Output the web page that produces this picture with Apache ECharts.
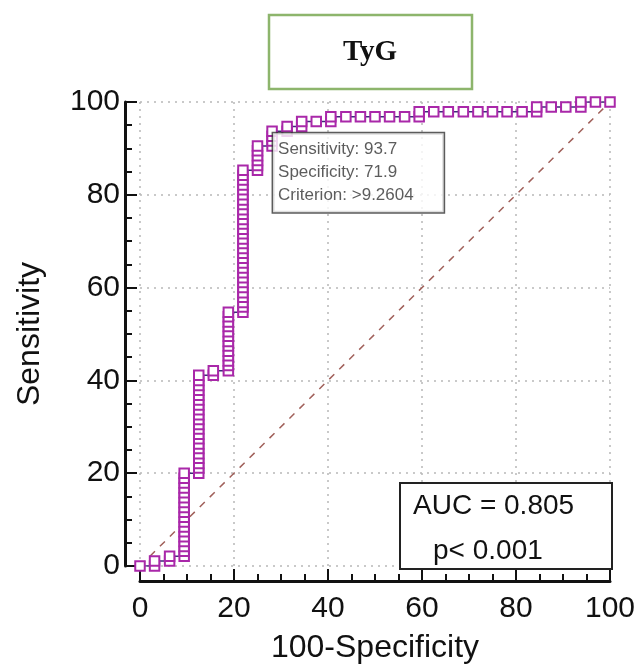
<!DOCTYPE html>
<html><head><meta charset="utf-8">
<script src="https://cdn.jsdelivr.net/npm/echarts@6/dist/echarts.min.js"></script>
<style>html,body{margin:0;padding:0;background:#fff}#c{width:639px;height:669px}</style>
</head><body><div id="c"></div>
<script>
// ---- data ----
const titleText = 'TyG';
const xName = '100-Specificity';
const yName = 'Sensitivity';
const tickValues = [0, 20, 40, 60, 80, 100];
// ROC points: 100-Specificity (x) and Sensitivity (y)
const fpr = [0,
  3.1,3.1,
  6.3,6.3,
  9.4,9.4,9.4,9.4,9.4,9.4,9.4,9.4,9.4,9.4,9.4,9.4,9.4,9.4,9.4,9.4,9.4,9.4,
  12.5,12.5,12.5,12.5,12.5,12.5,12.5,12.5,12.5,12.5,12.5,12.5,12.5,12.5,12.5,12.5,12.5,12.5,12.5,12.5,12.5,
  15.6,15.6,
  18.8,18.8,18.8,18.8,18.8,18.8,18.8,18.8,18.8,18.8,18.8,18.8,18.8,
  21.9,21.9,21.9,21.9,21.9,21.9,21.9,21.9,21.9,21.9,21.9,21.9,21.9,21.9,21.9,21.9,21.9,21.9,21.9,21.9,21.9,21.9,21.9,21.9,21.9,21.9,21.9,21.9,21.9,21.9,
  25,25,25,25,25,25,
  28.1,28.1,28.1,28.1,
  31.3,31.3,
  34.4,34.4,
  37.5,
  40.6,40.6,
  43.8,46.9,50,53.1,56.3,
  59.4,59.4,
  62.5,65.6,68.8,71.9,75,78.1,81.3,
  84.4,84.4,
  87.5,90.6,
  93.8,93.8,
  96.9,100];
const sens = [0,
  0,1.1,
  1.1,2.1,
  2.1,3.2,4.2,5.3,6.3,7.4,8.4,9.5,10.5,11.6,12.6,13.7,14.7,15.8,16.8,17.9,18.9,20.0,
  20.0,21.1,22.1,23.2,24.2,25.3,26.3,27.4,28.4,29.5,30.5,31.6,32.6,33.7,34.7,35.8,36.8,37.9,38.9,40.0,41.1,
  41.1,42.1,
  42.1,43.2,44.2,45.3,46.3,47.4,48.4,49.5,50.5,51.6,52.6,53.7,54.7,
  54.7,55.8,56.8,57.9,58.9,60.0,61.1,62.1,63.2,64.2,65.3,66.3,67.4,68.4,69.5,70.5,71.6,72.6,73.7,74.7,75.8,76.8,77.9,78.9,80.0,81.1,82.1,83.2,84.2,85.3,
  85.3,86.3,87.4,88.4,89.5,90.5,
  90.5,91.6,92.6,93.7,
  93.7,94.7,
  94.7,95.8,
  95.8,
  95.8,96.8,
  96.8,96.8,96.8,96.8,96.8,
  96.8,97.9,
  97.9,97.9,97.9,97.9,97.9,97.9,97.9,
  97.9,98.9,
  98.9,98.9,
  98.9,100,
  100,100];
const diagX = [0, 100];
const diagY = [0, 100];
// criterion annotation
const critSens = 93.7;
const critSpec = 71.9;
const critText = '>9.2604';
// AUC annotation
const aucValue = 0.805;
const pText = 'p< 0.001';

const rocData = fpr.map((x, i) => [x, sens[i]]);
const diagData = diagX.map((x, i) => [x, diagY[i]]);
const critPoint = [+(100 - critSpec).toFixed(1), critSens];

const FONT = '"Liberation Sans", Arial, sans-serif';
const chart = echarts.init(document.getElementById('c'), null, {renderer: 'canvas'});
const gridLine = {show: true, lineStyle: {color: '#b8b8b8', width: 1.5, type: [2, 5]}};
const mainAxis = (name, isX) => ({
  type: 'value', min: 0, max: 100, interval: 20,
  position: isX ? 'bottom' : 'left', offset: 15,
  axisLine: {show: false, onZero: false},
  axisTick: {show: true, inside: true, length: 12, lineStyle: {color: '#111', width: 2}},
  minorTick: {show: true, splitNumber: 4, length: 7, lineStyle: {color: '#111', width: 2}},
  splitLine: gridLine,
  axisLabel: {color: '#111', fontSize: 30, fontFamily: FONT, margin: isX ? 13 : 5},
  name: name, nameLocation: 'middle', nameGap: isX ? 51 : 79,
  nameTextStyle: {color: '#111', fontSize: 32, fontFamily: FONT}
});
const lineAxis = (isX) => ({
  type: 'value', min: -3.2, max: 103.4, position: isX ? 'bottom' : 'left', offset: 15,
  axisLine: {show: true, onZero: false, lineStyle: {color: '#111', width: 3}},
  axisTick: {show: false}, axisLabel: {show: false}, splitLine: {show: false}
});

chart.setOption({
  animation: false,
  backgroundColor: '#fff',
  grid: {left: 140, right: 29, top: 102, bottom: 99},
  xAxis: [mainAxis(xName, true), lineAxis(true)],
  yAxis: [mainAxis(yName, false), lineAxis(false)],
  graphic: [
    {type: 'rect', shape: {x: 269, y: 15, width: 203, height: 74},
     style: {fill: '#fff', stroke: '#8db56c', lineWidth: 2.5}},
    {type: 'text', x: 370, y: 53,
     style: {text: titleText, font: 'bold 29px "Liberation Serif", "Times New Roman", serif',
       fill: '#111', align: 'center', verticalAlign: 'middle'}},
    {type: 'rect', z: 100, shape: {x: 400, y: 483, width: 212, height: 86},
     style: {fill: '#fff', stroke: '#222', lineWidth: 2}},
    {type: 'text', z: 101, x: 413, y: 506,
     style: {text: 'AUC = ' + aucValue.toFixed(3), font: '28px ' + FONT, fill: '#111',
       align: 'left', verticalAlign: 'middle'}},
    {type: 'text', z: 101, x: 433, y: 551,
     style: {text: pText, font: '28px ' + FONT, fill: '#111',
       align: 'left', verticalAlign: 'middle'}}
  ],
  series: [
    {type: 'line', data: diagData, symbol: 'none', silent: true, z: 1,
     lineStyle: {color: '#a0605a', width: 1.5, type: [7, 7]}},
    {type: 'line', data: rocData, symbol: 'rect', symbolSize: 9.5, z: 3,
     itemStyle: {color: '#ffffff', borderColor: '#a928a9', borderWidth: 2},
     lineStyle: {color: '#3c2c78', width: 1.5}},
    {type: 'scatter', data: [critPoint], symbolSize: 0, z: 10,
     label: {show: true, position: [1, 2], align: 'left', verticalAlign: 'top',
       formatter: 'Sensitivity: ' + critSens + '\nSpecificity: ' + critSpec + '\nCriterion: ' + critText,
       fontFamily: FONT, fontSize: 17, lineHeight: 23, color: '#333',
       backgroundColor: '#fff', borderColor: '#333', borderWidth: 1.5,
       padding: [5, 30, 5, 5]}}
  ]
});
</script></body></html>
